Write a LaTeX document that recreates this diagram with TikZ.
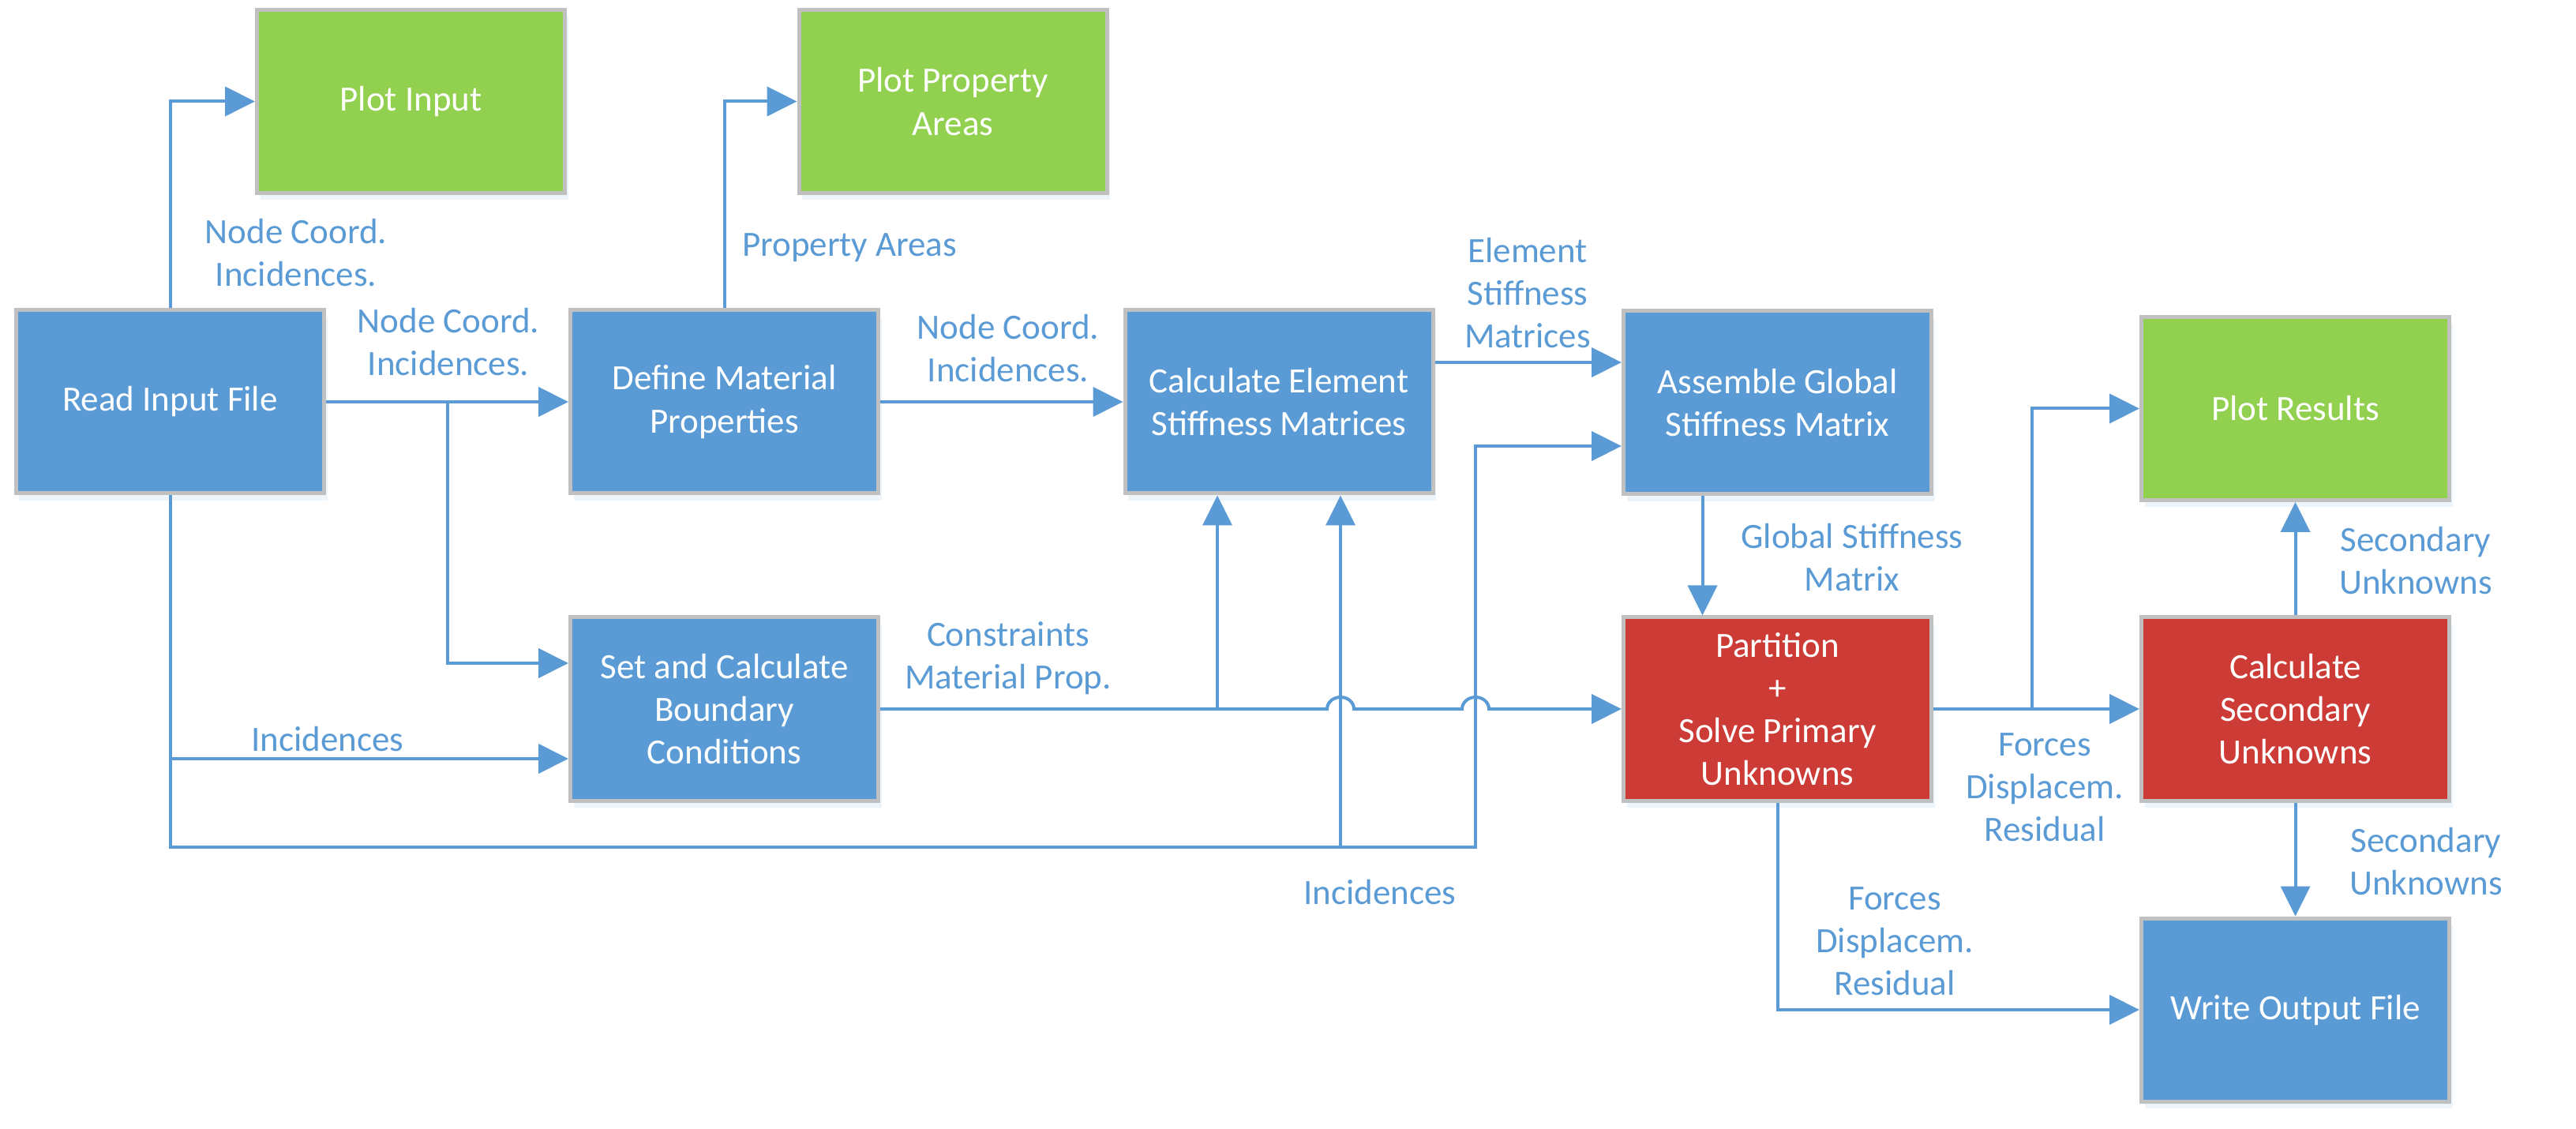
\documentclass[tikz,border=0pt]{standalone}
\usepackage{fontspec}
\setmainfont{Carlito}
\usetikzlibrary{arrows.meta}
\usetikzlibrary{shadows}
\definecolor{boxblue}{HTML}{5B9BD5}
\definecolor{boxgreen}{HTML}{92D050}
\definecolor{boxred}{HTML}{CC3B35}
\definecolor{rim}{HTML}{C0C0C0}

\begin{document}
\begin{tikzpicture}[align=center, font=\fontsize{12.8}{15.4}\selectfont,
  box/.style={draw=rim, line width=0.05cm, minimum width=3.9cm, minimum height=2.32cm, text=white,
    drop shadow={shadow xshift=0.04cm, shadow yshift=-0.09cm, opacity=0.18, fill=boxblue!60}},
  lbl/.style={text=boxblue},
  flow/.style={draw=boxblue, line width=0.04cm, -{Triangle[length=0.38cm, width=0.37cm]}},
  wire/.style={draw=boxblue, line width=0.04cm}]
  \useasboundingbox (0,0) rectangle (32.63,-14.30);
  \node[box, fill=boxblue] (read) at (2.155,-5.09) {Read Input File};
  \node[box, fill=boxgreen] (plotin) at (5.205,-1.285) {Plot Input};
  \node[box, fill=boxblue] (defmat) at (9.175,-5.09) {Define Material\\Properties};
  \node[box, fill=boxgreen] (plotprop) at (12.07,-1.285) {Plot Property\\Areas};
  \node[box, fill=boxblue] (setbc) at (9.175,-8.98) {Set and Calculate\\Boundary\\Conditions};
  \node[box, fill=boxblue] (calcel) at (16.2,-5.09) {Calculate Element\\Stiffness Matrices};
  \node[box, fill=boxblue] (assem) at (22.515,-5.10) {Assemble Global\\Stiffness Matrix};
  \node[box, fill=boxred] (partsolve) at (22.515,-8.98) {Partition\\+\\Solve Primary\\Unknowns};
  \node[box, fill=boxgreen] (plotres) at (29.075,-5.175) {Plot Results};
  \node[box, fill=boxred] (calcsec) at (29.075,-8.98) {Calculate\\Secondary\\Unknowns};
  \node[box, fill=boxblue] (writeout) at (29.075,-12.79) {Write Output File};

  \coordinate (br1) at (5.67,-5.09);
  \coordinate (bot) at (18.69,-10.73);
  \coordinate (inc) at ([yshift=-0.63cm]setbc.west);
  \coordinate (ce1) at ([xshift=-0.78cm]calcel.south);
  \coordinate (ce2) at ([xshift=0.78cm]calcel.south);
  \coordinate (hop1) at (16.81,-8.98);
  \coordinate (hop2) at (18.52,-8.98);
  \coordinate (br2) at (25.74,-8.98);

  \draw[flow] (read.north) |- (plotin.west);
  \draw[flow] (read.east) -- (defmat.west);
  \draw[flow] (br1) |- ([yshift=0.58cm]setbc.west);
  \draw[flow] (read.south) |- (bot) |- ([yshift=-0.55cm]assem.west);
  \draw[flow] (read.south |- inc) -- (inc);
  \draw[flow] (ce2 |- bot) -- (ce2);
  \draw[flow] (defmat.north) |- (plotprop.west);
  \draw[flow] (defmat.east) -- (calcel.west);
  \draw[flow] (setbc.east) -- (hop1) arc[start angle=180, end angle=0, x radius=0.17cm, y radius=0.15cm]
    -- (hop2) arc[start angle=180, end angle=0, x radius=0.17cm, y radius=0.15cm] -- (partsolve.west);
  \draw[flow] (ce1 |- setbc.east) -- (ce1);
  \draw[flow] ([yshift=0.5cm]calcel.east) -- ([yshift=0.5cm]calcel.east -| assem.west);
  \draw[flow] ([xshift=-0.95cm]assem.south) -- ([xshift=-0.95cm]partsolve.north);
  \draw[flow] (partsolve.east) -- (calcsec.west);
  \draw[flow] (br2) |- (plotres.west);
  \draw[flow] (partsolve.south) |- (writeout.west);
  \draw[flow] (calcsec.north) -- (plotres.south);
  \draw[flow] (calcsec.south) -- (writeout.north);

  \node[lbl] (l1) at (3.75,-3.2) {Node Coord.\\Incidences.};
  \node[lbl] (l2) at (5.68,-4.33) {Node Coord.\\Incidences.};
  \node[lbl] (l3) at (4.15,-9.36) {Incidences};
  \node[lbl] (l4) at (17.48,-11.30) {Incidences};
  \node[lbl] (l5) at (10.76,-3.14) {Property Areas};
  \node[lbl] (l6) at (12.77,-4.41) {Node Coord.\\Incidences.};
  \node[lbl] (l7) at (12.77,-8.34) {Constraints\\Material Prop.};
  \node[lbl] (l8) at (19.35,-3.71) {Element\\Stiffness\\Matrices};
  \node[lbl] (l9) at (23.46,-7.06) {Global Stiffness\\Matrix};
  \node[lbl] (l10) at (25.9,-9.97) {Forces\\Displacem.\\Residual};
  \node[lbl] (l11) at (24.0,-11.92) {Forces\\Displacem.\\Residual};
  \node[lbl] (l12) at (30.6,-7.10) {Secondary\\Unknowns};
  \node[lbl] (l13) at (30.73,-10.91) {Secondary\\Unknowns};
\end{tikzpicture}
\end{document}
